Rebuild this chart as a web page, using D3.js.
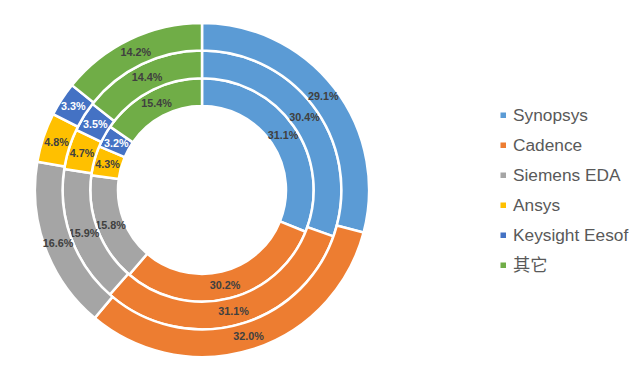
<!DOCTYPE html>
<html lang="zh">
<head>
<meta charset="UTF-8">
<title>EDA market share rings</title>
<script src="https://d3js.org/d3.v7.min.js"></script>
<style>
  body { margin: 0; background: #fff; }
  svg { display: block; font-family: "Liberation Sans", Arial, sans-serif; }
  .label { font-size: 10.8px; font-weight: bold; }
  .legend text { font-size: 17.3px; fill: #595959; }
</style>
</head>
<body>
<div id="chart"></div>
<script>
const vendors = ["Synopsys", "Cadence", "Siemens EDA", "Ansys", "Keysight Eesof", "其它"];
const colors = ["#5B9BD5", "#ED7D31", "#A5A5A5", "#FFC000", "#4472C4", "#70AD47"];
// rings from inside to outside
const innerRing = [31.1, 30.2, 15.8, 4.3, 3.2, 15.4];
const middleRing = [30.4, 31.1, 15.9, 4.7, 3.5, 14.4];
const outerRing = [29.1, 32.0, 16.6, 4.8, 3.3, 14.2];

const W = 639, H = 376;
const cx = 202, cy = 190;
const holeR = 84, ringW = 27.7;

const svg = d3.select("#chart").append("svg")
    .attr("width", W).attr("height", H);

const g = svg.append("g").attr("transform", `translate(${cx},${cy})`);

const pie = d3.pie().sort(null).value(d => d);
const rings = [innerRing, middleRing, outerRing];

rings.forEach((vals, i) => {
  const arc = d3.arc()
      .innerRadius(holeR + i * ringW)
      .outerRadius(holeR + (i + 1) * ringW);
  const slices = pie(vals);

  g.selectAll(".ring" + i)
    .data(slices)
    .enter().append("path")
      .attr("class", "ring" + i)
      .attr("d", arc)
      .attr("fill", (d, j) => colors[j])
      .attr("stroke", "#fff")
      .attr("stroke-width", 2.5);

  g.selectAll(".lab" + i)
    .data(slices)
    .enter().append("text")
      .attr("class", "label lab" + i)
      .attr("transform", d => `translate(${arc.centroid(d)})`)
      .attr("text-anchor", "middle")
      .attr("dy", "0.35em")
      .attr("fill", (d, j) => j === 4 ? "#fff" : "#404040")
      .text(d => d.data.toFixed(1) + "%");
});

// legend
const legend = svg.append("g").attr("class", "legend")
    .attr("transform", "translate(503,115)");

const row = legend.selectAll("g")
    .data(vendors)
    .enter().append("g")
      .attr("transform", (d, i) => `translate(0,${i * 30})`);

row.append("rect")
    .attr("x", -2.5).attr("y", -2.5)
    .attr("width", 5.5).attr("height", 5.5)
    .attr("fill", (d, i) => colors[i]);

row.append("text")
    .attr("x", 10)
    .attr("dy", "0.36em")
    .style("font-family", (d, i) => i === 5 ? "'Noto Sans CJK SC', sans-serif" : null)
    .text(d => d);
</script>
</body>
</html>
